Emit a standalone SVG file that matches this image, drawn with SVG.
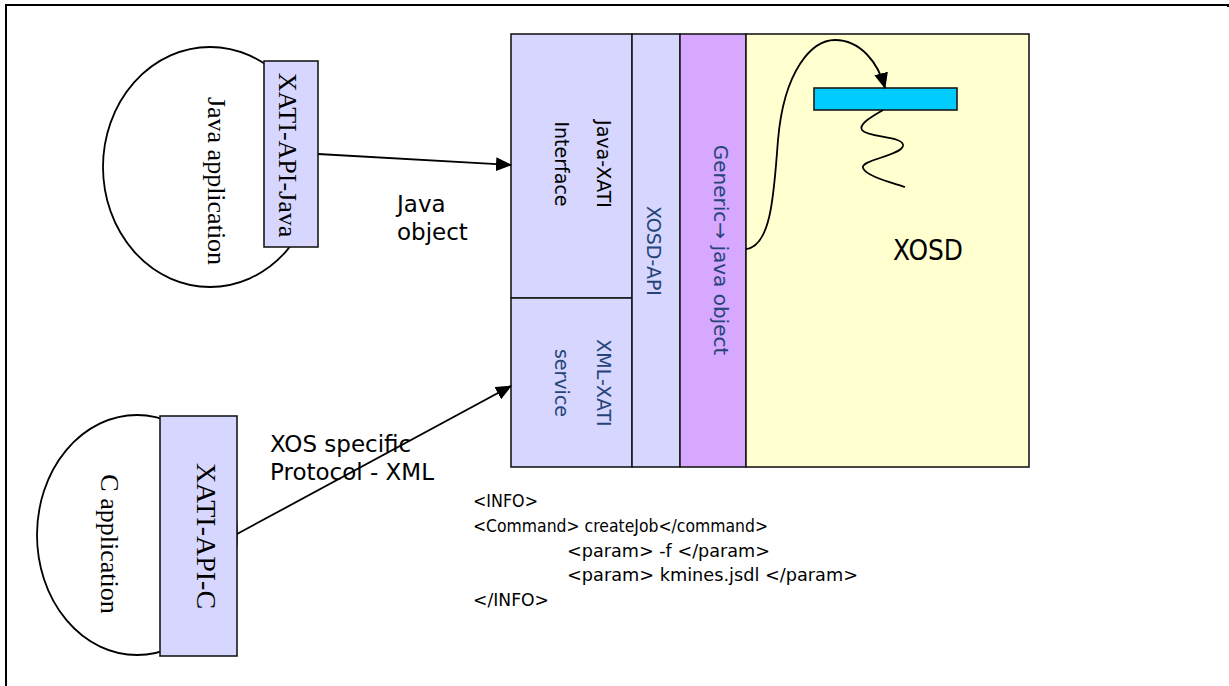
<svg xmlns="http://www.w3.org/2000/svg" width="1229" height="686" viewBox="0 0 1229 686">
  <style>
    .serif { font-family: "Liberation Serif", "Times New Roman", serif; fill: #000; }
    .sans { font-family: "DejaVu Sans", Verdana, sans-serif; fill: #000; }
    .navy { fill: #264478; }
    .box { stroke: #1a1a1a; stroke-width: 1.6; }
    .lav { fill: #D6D6FF; }
    .line { fill: none; stroke: #000; stroke-width: 1.8; }
  </style>
  <defs>
    <marker id="arrow" viewBox="0 0 16 14" refX="15" refY="7" markerWidth="16" markerHeight="14" markerUnits="userSpaceOnUse" orient="auto">
      <path d="M0,0 L16,7 L0,14 Z" fill="#000"/>
    </marker>
  </defs>

  <!-- page frame -->
  <path d="M6,686 V5 H1228 V7" fill="none" stroke="#000" stroke-width="2"/>

  <!-- Java application with its API stub -->
  <g id="java-app">
    <ellipse cx="210" cy="167" rx="107" ry="120" fill="#fff" stroke="#000" stroke-width="1.8"/>
    <text class="serif" font-size="26" text-anchor="middle" transform="translate(208,181) rotate(90)">Java application</text>
  </g>
  <g id="xati-api-java">
    <rect class="box lav" x="264" y="61" width="54" height="186"/>
    <text class="serif" font-size="26" text-anchor="middle" transform="translate(279,155) rotate(90)">XATI-API-Java</text>
  </g>

  <!-- C application with its API stub -->
  <g id="c-app">
    <ellipse cx="137" cy="535" rx="100" ry="120" fill="#fff" stroke="#000" stroke-width="1.8"/>
    <text class="serif" font-size="26" text-anchor="middle" transform="translate(101,544) rotate(90)">C application</text>
  </g>
  <g id="xati-api-c">
    <rect class="box lav" x="160" y="416" width="77" height="240"/>
    <text class="serif" font-size="28" text-anchor="middle" transform="translate(197,536) rotate(90)">XATI-API-C</text>
  </g>

  <!-- XOSD server stack -->
  <g id="java-xati-interface">
    <rect class="box lav" x="511" y="34" width="121" height="264"/>
    <g class="sans" font-size="19" text-anchor="middle" transform="translate(597,164) rotate(90)">
      <text x="0" y="0">Java-XATI</text>
      <text x="0" y="42">Interface</text>
    </g>
  </g>
  <g id="xml-xati-service">
    <rect class="box lav" x="511" y="298" width="121" height="169"/>
    <g class="sans navy" font-size="19" text-anchor="middle" transform="translate(597,383) rotate(90)">
      <text x="0" y="0">XML-XATI</text>
      <text x="0" y="42">service</text>
    </g>
  </g>
  <g id="xosd-api">
    <rect class="box lav" x="632" y="34" width="48" height="433"/>
    <text class="sans navy" font-size="19" text-anchor="middle" transform="translate(647,251) rotate(90)">XOSD-API</text>
  </g>
  <g id="generic-java-object">
    <rect class="box" x="680" y="34" width="66" height="433" fill="#D6A8FF"/>
    <text class="sans navy" font-size="20" text-anchor="middle" transform="translate(714,250) rotate(90)">Generic→ java object</text>
  </g>
  <g id="xosd">
    <rect class="box" x="746" y="34" width="283" height="433" fill="#FFFFD0"/>
    <text class="sans" font-size="28" x="893" y="260" textLength="70" lengthAdjust="spacingAndGlyphs">XOSD</text>
  </g>
  <g id="job-bar">
    <rect class="box" x="814" y="88" width="143" height="22" fill="#00CCFF"/>
  </g>

  <!-- connectors -->
  <g id="connectors">
    <line class="line" x1="318" y1="154" x2="511" y2="165" marker-end="url(#arrow)"/>
    <line class="line" x1="237" y1="534" x2="511" y2="386" marker-end="url(#arrow)"/>
    <path class="line" d="M746,249 C772,246 774,190 778,140 C784,70 812,40 835,40 C860,40 878,62 885,88" marker-end="url(#arrow)"/>
    <path class="line" d="M883,110 C873,116 858,124 862,130 C868,138 905,136 903,146 C900,156 860,160 863,168 C866,176 890,182 905,187"/>
  </g>

  <!-- connector labels -->
  <g id="labels" class="sans" font-size="23">
    <text x="397" y="212">Java</text>
    <text x="397" y="240">object</text>
    <text x="270" y="452">XOS specific</text>
    <text x="270" y="480">Protocol - XML</text>
  </g>

  <!-- sample XML message -->
  <g id="xml-message" class="sans" font-size="17">
    <text x="473" y="507" textLength="65" lengthAdjust="spacingAndGlyphs">&lt;INFO&gt;</text>
    <text x="473" y="532" textLength="295" lengthAdjust="spacingAndGlyphs">&lt;Command&gt; createJob&lt;/command&gt;</text>
    <text x="567" y="557" textLength="203" lengthAdjust="spacingAndGlyphs">&lt;param&gt; -f &lt;/param&gt;</text>
    <text x="567" y="581" textLength="291" lengthAdjust="spacingAndGlyphs">&lt;param&gt; kmines.jsdl &lt;/param&gt;</text>
    <text x="473" y="606" textLength="76" lengthAdjust="spacingAndGlyphs">&lt;/INFO&gt;</text>
  </g>
</svg>
